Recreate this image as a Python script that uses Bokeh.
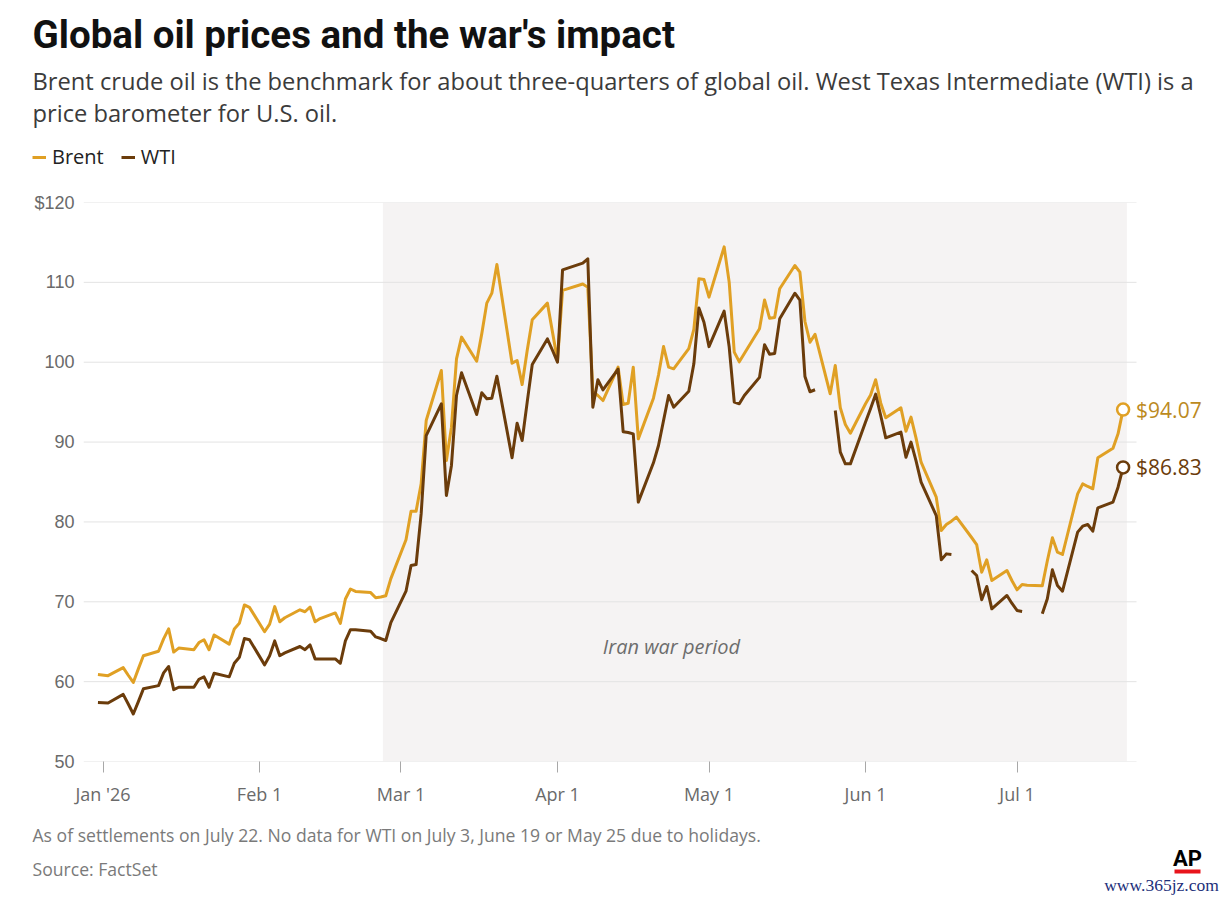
import numpy as np
from datetime import datetime, timedelta
from bokeh.plotting import figure
from bokeh.models import (Range1d, FixedTicker, Label, BoxAnnotation,
                          ColumnDataSource, Legend, LegendItem)
from bokeh.embed import file_html
from bokeh.resources import INLINE

# ---------------- data ----------------
dates = [
    "2025-12-31", "2026-01-02", "2026-01-05", "2026-01-06", "2026-01-07", "2026-01-08", "2026-01-09",
    "2026-01-12", "2026-01-13", "2026-01-14", "2026-01-15", "2026-01-16",
    "2026-01-19", "2026-01-20", "2026-01-21", "2026-01-22", "2026-01-23",
    "2026-01-26", "2026-01-27", "2026-01-28", "2026-01-29", "2026-01-30",
    "2026-02-02", "2026-02-03", "2026-02-04", "2026-02-05", "2026-02-06",
    "2026-02-09", "2026-02-10", "2026-02-11", "2026-02-12", "2026-02-13",
    "2026-02-16", "2026-02-17", "2026-02-18", "2026-02-19", "2026-02-20",
    "2026-02-23", "2026-02-24", "2026-02-25", "2026-02-26", "2026-02-27",
    "2026-03-02", "2026-03-03", "2026-03-04", "2026-03-05", "2026-03-06",
    "2026-03-09", "2026-03-10", "2026-03-11", "2026-03-12", "2026-03-13",
    "2026-03-16", "2026-03-17", "2026-03-18", "2026-03-19", "2026-03-20",
    "2026-03-23", "2026-03-24", "2026-03-25", "2026-03-26", "2026-03-27",
    "2026-03-30", "2026-03-31", "2026-04-01", "2026-04-02",
    "2026-04-06", "2026-04-07", "2026-04-08", "2026-04-09", "2026-04-10",
    "2026-04-13", "2026-04-14", "2026-04-15", "2026-04-16", "2026-04-17",
    "2026-04-20", "2026-04-21", "2026-04-22", "2026-04-23", "2026-04-24",
    "2026-04-27", "2026-04-28", "2026-04-29", "2026-04-30", "2026-05-01",
    "2026-05-04", "2026-05-05", "2026-05-06", "2026-05-07", "2026-05-08",
    "2026-05-11", "2026-05-12", "2026-05-13", "2026-05-14", "2026-05-15",
    "2026-05-18", "2026-05-19", "2026-05-20", "2026-05-21", "2026-05-22",
    "2026-05-25", "2026-05-26", "2026-05-27", "2026-05-28", "2026-05-29",
    "2026-06-01", "2026-06-02", "2026-06-03", "2026-06-04", "2026-06-05",
    "2026-06-08", "2026-06-09", "2026-06-10", "2026-06-11", "2026-06-12",
    "2026-06-15", "2026-06-16", "2026-06-17", "2026-06-18", "2026-06-19",
    "2026-06-22", "2026-06-23", "2026-06-24", "2026-06-25", "2026-06-26",
    "2026-06-29", "2026-06-30", "2026-07-01", "2026-07-02", "2026-07-03",
    "2026-07-06", "2026-07-07", "2026-07-08", "2026-07-09", "2026-07-10",
    "2026-07-13", "2026-07-14", "2026-07-15", "2026-07-16", "2026-07-17",
    "2026-07-20", "2026-07-21", "2026-07-22",
]

brent = [
    60.9, 60.75, 61.75, 60.8, 59.9, 61.6, 63.25,
    63.8, 65.35, 66.6, 63.7, 64.2,
    64.0, 64.9, 65.25, 64.0, 65.85,
    64.7, 66.6, 67.3, 69.6, 69.3,
    66.25, 67.2, 69.4, 67.5, 68.0,
    69.0, 68.75, 69.35, 67.5, 67.9,
    68.6, 67.3, 70.35, 71.6, 71.3,
    71.15, 70.5, 70.6, 70.75, 72.9,
    77.76, 81.35, 81.35, 84.77, 92.7,
    98.96, 87.7, 91.87, 100.42, 103.14,
    100.13, 103.55, 107.4, 108.65, 112.24,
    99.88, 100.22, 97.2, 101.47, 105.31,
    107.4, 103.8, 100.2, 109.0,
    109.8, 109.4, 96.3, 95.83, 95.2,
    99.38, 94.7, 94.87, 99.38, 90.4,
    95.5, 98.4, 101.97, 99.38, 99.17,
    101.7, 104.1, 110.44, 110.36, 108.15,
    114.45, 110.0, 101.26, 100.05, 101.1,
    104.18, 107.8, 105.5, 105.6, 109.2,
    112.11, 111.28, 105.1, 102.5, 103.5,
    96.04, 99.6, 94.3, 92.2, 91.1,
    94.8, 95.9, 97.8, 94.9, 93.04,
    94.29, 91.37, 93.12, 90.49, 87.48,
    83.1, 78.93, 79.68, 80.1, 80.6,
    78.05, 77.17, 73.71, 75.25, 72.67,
    73.92, 72.63, 71.5, 72.17, 72.08,
    72.0, 75.13, 78.01, 76.21, 75.92,
    83.52, 84.77, 84.44, 84.15, 88.03,
    89.24, 91.03, 94.07,
]

wti = [
    57.4, 57.33, 58.4, 57.2, 55.95, 57.5, 59.1,
    59.5, 61.1, 61.9, 59.0, 59.3,
    59.3, 60.3, 60.6, 59.3, 61.05,
    60.6, 62.3, 63.05, 65.4, 65.25,
    62.1, 63.25, 65.1, 63.25, 63.6,
    64.4, 64.0, 64.6, 62.85, 62.85,
    62.85, 62.3, 65.1, 66.5, 66.5,
    66.3, 65.6, 65.4, 65.15, 67.4,
    71.33, 74.55, 74.67, 81.0, 90.82,
    94.79, 83.31, 87.07, 95.83, 98.67,
    93.45, 96.17, 95.42, 95.5, 98.25,
    88.03, 92.37, 90.2, 95.0, 99.71,
    102.92, 101.5, 100.0, 111.57,
    112.4, 112.95, 94.37, 97.8, 96.54,
    99.13, 91.3, 91.2, 91.03, 82.48,
    87.4, 89.57, 92.7, 95.83, 94.37,
    96.37, 99.8, 106.8, 105.0, 101.95,
    106.4, 101.9, 95.0, 94.8, 95.83,
    98.1, 102.2, 101.0, 101.1, 105.43,
    108.64, 107.77, 98.2, 96.3, 96.55,
    None, 93.95, 88.74, 87.27, 87.27,
    92.5, 94.2, 96.0, 93.33, 90.53,
    91.24, 88.11, 89.99, 87.65, 84.98,
    80.8, 75.25, 76.0, 75.92, None,
    73.92, 73.29, 70.25, 71.92, 69.12,
    70.79, 69.79, 68.91, 68.79, None,
    68.49, 70.37, 74.0, 72.04, 71.33,
    78.72, 79.47, 79.68, 78.84, 81.77,
    82.48, 84.35, 86.83,
]

month_ticks = ["2026-01-01", "2026-02-01", "2026-03-01", "2026-04-01",
               "2026-05-01", "2026-06-01", "2026-07-01"]
month_labels = ["Jan '26", "Feb 1", "Mar 1", "Apr 1", "May 1", "Jun 1", "Jul 1"]
y_ticks = [50, 60, 70, 80, 90, 100, 110, 120]
y_labels = ["50", "60", "70", "80", "90", "100", "110", "$120"]
war_period = ["2026-02-25T10:00", "2026-07-22T18:00"]
series_names = ["Brent", "WTI"]

# ---------------- styling ----------------
BRENT = "#E0A024"
WTI = "#6B3C0B"
SHADE = "#F5F3F3"
GRID = "#E3E3E3"
SANS = "Open Sans"
LW = 3

W, H = 1224, 900
HEAD_B = 180          # header block: page y 0..180
FOOT_T = 815          # footer block: page y 815..900
FL, FT, FB = 83, 202, 761   # main frame left / top / bottom (page pixels)
GRID_RIGHT = 1136           # grid lines stop here (page pixels)

EPOCH = datetime(1970, 1, 1)


def ms(s):
    return (datetime.fromisoformat(s) - EPOCH).total_seconds() * 1000.0


PX0, PXD = 102.5, 5.05      # page x of Jan 1 and pixels per day


def px_to_ms(px):
    return (datetime(2026, 1, 1) + timedelta(days=(px - PX0) / PXD) - EPOCH).total_seconds() * 1000.0


x = [ms(d) for d in dates]
src = ColumnDataSource(dict(
    x=x,
    brent=np.array(brent, dtype=float),
    wti=np.array([np.nan if v is None else v for v in wti], dtype=float),
))

# ---------------- main chart ----------------
p = figure(width=W, height=FOOT_T - HEAD_B, x_axis_type="datetime",
           x_range=Range1d(px_to_ms(FL), px_to_ms(W)),
           y_range=Range1d(y_ticks[0], y_ticks[-1]),
           output_backend="svg", toolbar_location=None,
           min_border_left=FL, min_border_right=0,
           min_border_top=FT - HEAD_B, min_border_bottom=FOOT_T - FB)
p.outline_line_color = None
p.background_fill_color = "white"
p.border_fill_color = "white"

p.add_layout(BoxAnnotation(left=ms(war_period[0]), right=ms(war_period[1]),
                           fill_color=SHADE, fill_alpha=1.0, line_color=None,
                           level="image"))

p.xgrid.visible = False
p.ygrid.visible = False
p.segment(x0=[px_to_ms(FL)] * len(y_ticks), x1=[px_to_ms(GRID_RIGHT)] * len(y_ticks),
          y0=y_ticks, y1=y_ticks, line_color=GRID, line_width=1)

p.yaxis.ticker = FixedTicker(ticks=y_ticks)
p.yaxis.major_label_overrides = {t: l for t, l in zip(y_ticks, y_labels)}
p.yaxis.axis_line_color = None
p.yaxis.major_tick_line_color = None
p.yaxis.major_tick_in = 0
p.yaxis.major_tick_out = 0
p.yaxis.minor_tick_line_color = None
p.yaxis.minor_tick_out = 0
p.yaxis.major_label_standoff = 9
p.yaxis.major_label_text_font = "Liberation Sans"
p.yaxis.major_label_text_font_size = "18px"
p.yaxis.major_label_text_color = "#6a6a6a"

tick_ms = [ms(t) for t in month_ticks]
p.xaxis.ticker = FixedTicker(ticks=tick_ms)
p.xaxis.major_label_overrides = {t: l for t, l in zip(tick_ms, month_labels)}
p.xaxis.axis_line_color = None
p.xaxis.major_tick_line_color = "#a8a8a8"
p.xaxis.major_tick_in = 0
p.xaxis.major_tick_out = 11
p.xaxis.minor_tick_line_color = None
p.xaxis.major_label_standoff = 9
p.xaxis.major_label_text_font = SANS
p.xaxis.major_label_text_font_size = "18px"
p.xaxis.major_label_text_color = "#6a6a6a"

p.line("x", "brent", source=src, line_color=BRENT, line_width=LW, line_join="round")
p.line("x", "wti", source=src, line_color=WTI, line_width=LW, line_join="round")

p.scatter(x=[x[-1]], y=[brent[-1]], size=12, marker="circle", fill_color="white",
          line_color=BRENT, line_width=2.5)
p.scatter(x=[x[-1]], y=[wti[-1]], size=12, marker="circle", fill_color="white",
          line_color=WTI, line_width=2.5)
p.add_layout(Label(x=x[-1], y=brent[-1], x_offset=13, text=f"${brent[-1]:.2f}",
                   text_baseline="middle", text_font=SANS, text_font_size="21px",
                   text_color="#BC8A1E"))
p.add_layout(Label(x=x[-1], y=wti[-1], x_offset=13, text=f"${wti[-1]:.2f}",
                   text_baseline="middle", text_font=SANS, text_font_size="21px",
                   text_color=WTI))

p.add_layout(Label(x=671 - FL, y=FB - 646, x_units="screen", y_units="screen",
                   text="Iran war period", text_font=SANS, text_font_size="20px",
                   text_font_style="italic", text_color="#6d6d6d",
                   text_align="center", text_baseline="middle"))


# ---------------- header and footer blocks (page-pixel coordinates) ----------------
def block(top, bottom):
    f = figure(width=W, height=bottom - top, x_range=Range1d(0, W), y_range=Range1d(bottom, top),
               x_axis_location=None, y_axis_location=None, min_border=0,
               output_backend="svg", toolbar_location=None)
    f.grid.visible = False
    f.outline_line_color = None
    f.background_fill_color = "white"
    f.border_fill_color = "white"
    return f


def text(f, cx, cy, s, size, color, style="normal", align="left", baseline="alphabetic", font=SANS):
    f.add_layout(Label(x=cx, y=cy, text=s, text_font=font, text_font_size=size,
                       text_color=color, text_font_style=style,
                       text_align=align, text_baseline=baseline))


hdr = block(0, HEAD_B)
text(hdr, 32, 34, "Global oil prices and the war's impact", "38.5px", "#111111",
     style="bold", font="Roboto")
text(hdr, 32, 80, "Brent crude oil is the benchmark for about three-quarters of global oil. "
                  "West Texas Intermediate (WTI) is a", "23.7px", "#3b3b3b")
text(hdr, 32, 112, "price barometer for U.S. oil.", "23.7px", "#3b3b3b")

# legend: proxy renderers (no visible data) styled like the series lines
proxy_b = hdr.line(x=[np.nan], y=[np.nan], line_color=BRENT, line_width=LW)
proxy_w = hdr.line(x=[np.nan], y=[np.nan], line_color=WTI, line_width=LW)
legend = Legend(items=[LegendItem(label=series_names[0], renderers=[proxy_b]),
                       LegendItem(label=series_names[1], renderers=[proxy_w])],
                location=(32, HEAD_B - 170), orientation="horizontal",
                glyph_width=14, glyph_height=20, label_standoff=6, spacing=17,
                padding=0, margin=0, border_line_color=None, background_fill_alpha=0,
                label_text_font=SANS, label_text_font_size="20px", label_text_color="#222222",
                label_height=20)
hdr.add_layout(legend)

ftr = block(FOOT_T, H)
text(ftr, 32, 834, "As of settlements on July 22. No data for WTI on July 3, June 19 or May 25 due to holidays.",
     "17.6px", "#7a7a7a")
text(ftr, 32, 868, "Source: FactSet", "17.6px", "#7a7a7a")
text(ftr, 1187, 858, "AP", "22px", "#000000", style="bold", align="center", font="Roboto")
ftr.add_layout(BoxAnnotation(left=1174, right=1200, top=869, bottom=873,
                             fill_color="#E8141C", fill_alpha=1.0, line_color=None))
text(ftr, 1161, 884, "www.365jz.com", "17.5px", "#1C2F7A", align="center", font="Liberation Serif")

open("out.html", "w").write(file_html([hdr, p, ftr], INLINE))
